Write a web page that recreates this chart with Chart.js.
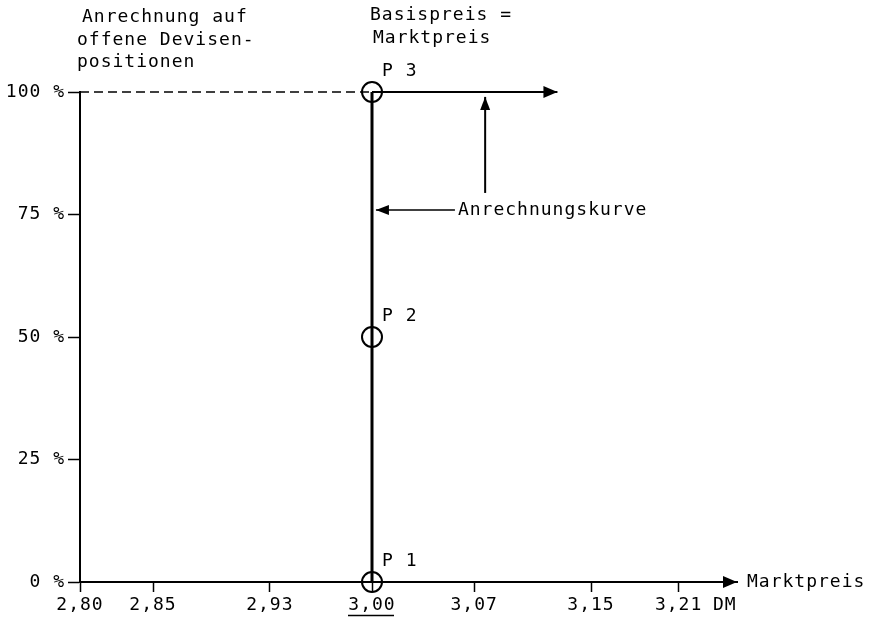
<!DOCTYPE html>
<html>
<head>
<meta charset="utf-8">
<script src="https://cdn.jsdelivr.net/npm/chart.js@4"></script>
<style>
    html, body { margin: 0; padding: 0; background: #fff; }
    #wrap { width: 872px; height: 618px; }
</style>
</head>
<body>
<div id="wrap"><canvas id="chart"></canvas></div>
<script>
// data
const xTicks = [2.80, 2.85, 2.93, 3.00, 3.07, 3.15, 3.21];
const xTickLabels = ['2,80', '2,85', '2,93', '3,00', '3,07', '3,15', '3,21'];
const yTicks = [0, 25, 50, 75, 100];
const yTickLabels = ['0 %', '25 %', '50 %', '75 %', '100 %'];

const curveX = [3.00, 3.00];
const curveY = [0, 100];
const pointX = [3.00, 3.00, 3.00];
const pointY = [0, 50, 100];
const pointLabels = ['P 1', 'P 2', 'P 3'];
const dashX = [2.80, 3.00];
const dashY = [100, 100];
const topArrowX = [3.00, 3.127];
const topArrowY = [100, 100];
const upArrowX = [3.0775, 3.0775];
const upArrowY = [79.4, 99];
const leftArrowX = [3.0568, 3.0027];
const leftArrowY = [75.9, 75.9];

const toPts = (xs, ys) => xs.map((x, i) => ({ x: x, y: ys[i] }));

const FONT = "'DejaVu Sans Mono', monospace";
const FSIZE = 18;
const SPACING = '1px';

function arrowHead(ctx, x1, y1, x2, y2, len, half) {
    const a = Math.atan2(y2 - y1, x2 - x1);
    ctx.beginPath();
    ctx.moveTo(x2, y2);
    ctx.lineTo(x2 - len * Math.cos(a) + half * Math.sin(a), y2 - len * Math.sin(a) - half * Math.cos(a));
    ctx.lineTo(x2 - len * Math.cos(a) - half * Math.sin(a), y2 - len * Math.sin(a) + half * Math.cos(a));
    ctx.closePath();
    ctx.fill();
}

const decor = {
    id: 'decor',
    beforeDraw(chart) {
        const ctx = chart.ctx;
        ctx.save();
        ctx.fillStyle = '#fff';
        ctx.fillRect(0, 0, chart.width, chart.height);
        ctx.restore();
        ctx.letterSpacing = SPACING;
    },
    afterDraw(chart) {
        const ctx = chart.ctx;
        const xs = chart.scales.x, ys = chart.scales.y;
        const px = v => xs.getPixelForValue(v);
        const py = v => ys.getPixelForValue(v);
        ctx.save();
        ctx.fillStyle = '#000';
        ctx.strokeStyle = '#000';

        // arrow heads
        arrowHead(ctx, px(xs.min), chart.chartArea.bottom, px(xs.max), chart.chartArea.bottom, 14, 6);
        arrowHead(ctx, px(topArrowX[0]), py(topArrowY[0]), px(topArrowX[1]), py(topArrowY[1]), 14, 6);
        arrowHead(ctx, px(upArrowX[0]), py(upArrowY[0]), px(upArrowX[1]), py(upArrowY[1]), 13, 5);
        arrowHead(ctx, px(leftArrowX[0]), py(leftArrowY[0]), px(leftArrowX[1]), py(leftArrowY[1]), 13, 5);

        ctx.font = FSIZE + 'px ' + FONT;
        ctx.letterSpacing = SPACING;
        ctx.textBaseline = 'middle';
        ctx.textAlign = 'left';

        // point labels
        pointLabels.forEach((t, i) => {
            ctx.fillText(t, px(pointX[i]) + 10, py(pointY[i]) - 21);
        });

        // headings
        ctx.fillText('Anrechnung auf', 82, 17);
        ctx.fillText('offene Devisen-', 77, 40);
        ctx.fillText('positionen', 77, 62);
        ctx.fillText('Basispreis =', 370, 15);
        ctx.fillText('Marktpreis', 373, 38);

        ctx.fillText('Anrechnungskurve', px(leftArrowX[0]) + 3, py(leftArrowY[0]));
        ctx.fillText('Marktpreis', px(xs.max) + 10, chart.chartArea.bottom);
        ctx.fillText('DM', 713, 605);

        // underline base price
        const bx = px(3.00);
        ctx.lineWidth = 1.5;
        ctx.beginPath();
        ctx.moveTo(bx - 24, 615.5);
        ctx.lineTo(bx + 22, 615.5);
        ctx.stroke();
        ctx.restore();
    }
};

const ctx = document.getElementById('chart').getContext('2d');
new Chart(ctx, {
    type: 'scatter',
    data: {
        datasets: [
            {
                data: toPts(curveX, curveY),
                showLine: true,
                borderColor: '#000',
                borderWidth: 3,
                pointRadius: 0
            },
            {
                data: toPts(dashX, dashY),
                showLine: true,
                borderColor: '#000',
                borderWidth: 1.5,
                borderDash: [9, 5],
                pointRadius: 0
            },
            {
                data: toPts(topArrowX, topArrowY),
                showLine: true,
                borderColor: '#000',
                borderWidth: 2,
                pointRadius: 0
            },
            {
                data: toPts(upArrowX, upArrowY),
                showLine: true,
                borderColor: '#000',
                borderWidth: 2,
                pointRadius: 0
            },
            {
                data: toPts(leftArrowX, leftArrowY),
                showLine: true,
                borderColor: '#000',
                borderWidth: 1.5,
                pointRadius: 0
            },
            {
                data: toPts(pointX, pointY),
                showLine: false,
                pointStyle: 'circle',
                pointRadius: 10,
                pointBorderWidth: 2,
                pointBorderColor: '#000',
                pointBackgroundColor: 'rgba(0,0,0,0)'
            }
        ]
    },
    options: {
        responsive: true,
        maintainAspectRatio: false,
        animation: false,
        clip: false,
        layout: {
            padding: { left: 0, top: 92, right: 135, bottom: 0 }
        },
        plugins: {
            legend: { display: false },
            tooltip: { enabled: false }
        },
        scales: {
            x: {
                type: 'linear',
                min: 2.80,
                max: 3.25,
                afterFit: scale => { scale.height = 36; },
                afterBuildTicks: scale => {
                    scale.ticks = xTicks.map(v => ({ value: v }));
                },
                border: { display: true, color: '#000', width: 2 },
                grid: {
                    drawOnChartArea: false,
                    drawTicks: true,
                    tickLength: 10,
                    tickColor: '#000',
                    tickWidth: 1.5
                },
                ticks: {
                    color: '#000',
                    padding: 3,
                    maxRotation: 0,
                    autoSkip: false,
                    font: { family: FONT, size: FSIZE },
                    callback: v => {
                        const i = xTicks.findIndex(t => Math.abs(t - v) < 1e-6);
                        return i >= 0 ? xTickLabels[i] : '';
                    }
                }
            },
            y: {
                type: 'linear',
                min: 0,
                max: 100,
                afterFit: scale => { scale.width = 80; },
                afterBuildTicks: scale => {
                    scale.ticks = yTicks.map(v => ({ value: v }));
                },
                border: { display: true, color: '#000', width: 2 },
                grid: {
                    drawOnChartArea: false,
                    drawTicks: true,
                    tickLength: 12,
                    tickColor: '#000',
                    tickWidth: 1.5
                },
                ticks: {
                    color: '#000',
                    padding: 3,
                    autoSkip: false,
                    font: { family: FONT, size: FSIZE },
                    callback: v => {
                        const i = yTicks.indexOf(v);
                        return i >= 0 ? yTickLabels[i] : '';
                    }
                }
            }
        }
    },
    plugins: [decor]
});
</script>
</body>
</html>
